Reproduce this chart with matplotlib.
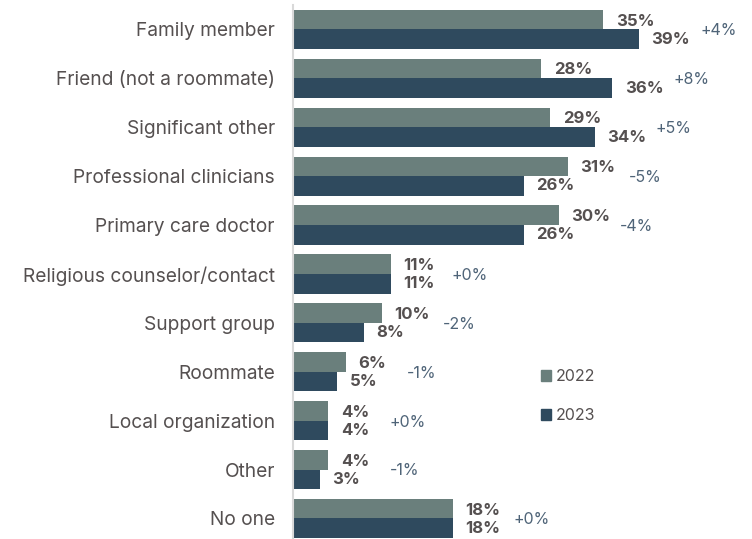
import numpy as np
import matplotlib.pyplot as plt
from matplotlib.patches import Patch

plt.rcParams['font.family'] = ['Inter', 'DejaVu Sans']

categories = ['Family member', 'Friend (not a roommate)', 'Significant other',
              'Professional clinicians', 'Primary care doctor',
              'Religious counselor/contact', 'Support group', 'Roommate',
              'Local organization', 'Other', 'No one']
vals_2022 = [35, 28, 29, 31, 30, 11, 10, 6, 4, 4, 18]
vals_2023 = [39, 36, 34, 26, 26, 11, 8, 5, 4, 3, 18]

c22 = '#6a7f7c'
c23 = '#2f4a5e'
txt = '#555050'
delta_col = '#4f6478'

fig = plt.figure(figsize=(7.52, 5.39), dpi=100)
ax = fig.add_axes([293 / 752, 0, 1 - 293 / 752, 1 - 5 / 539])

y = np.arange(len(categories))
h = 0.4
ax.barh(y - h / 2, vals_2022, height=h, color=c22, label='2022')
ax.barh(y + h / 2, vals_2023, height=h, color=c23, label='2023')

for i in range(len(categories)):
    a, b = vals_2022[i], vals_2023[i]
    ax.annotate(f'{a}%', (a, i - h / 2), xytext=(9, -1), textcoords='offset points',
                va='center', ha='left', fontsize=12, fontweight='bold', color=txt)
    ax.annotate(f'{b}%', (b, i + h / 2), xytext=(9, 0), textcoords='offset points',
                va='center', ha='left', fontsize=12, fontweight='bold', color=txt)
    d = b - a
    ax.annotate(f'{d:+d}%', (max(a, b), i), xytext=(44, -1), textcoords='offset points',
                va='center', ha='left', fontsize=11.5, color=delta_col)

ax.set_xlim(0, (752 - 293) / 8.87)
ax.set_ylim(10.42, -0.5)
ax.set_yticks(y)
ax.set_yticklabels(categories, fontsize=13.8, color=txt)
ax.tick_params(axis='y', length=0, pad=13)
ax.set_xticks([])
for s in ['top', 'right', 'bottom']:
    ax.spines[s].set_visible(False)
ax.spines['left'].set_color('#d9d9d9')
ax.spines['left'].set_linewidth(1.5)

handles = [Patch(color=c22, label='2022'), Patch(color=c23, label='2023')]
ax.legend(handles=handles, loc='upper left', bbox_to_anchor=(0.51, 0.345),
          frameon=False, handlelength=0.6, handleheight=0.6, handletextpad=0.3,
          labelspacing=1.5, fontsize=11.5, labelcolor=txt)

fig.savefig('out.png', dpi=100)
